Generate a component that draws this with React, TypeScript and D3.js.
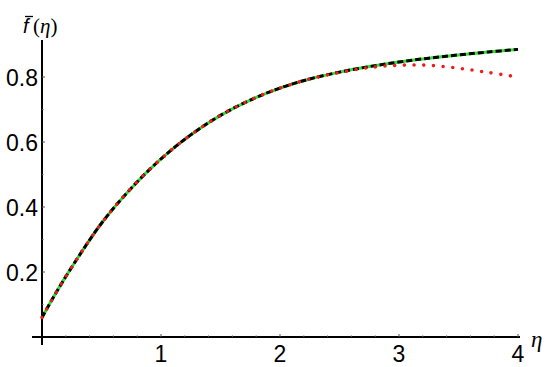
import * as React from 'react'
import * as d3 from 'd3'

// eta grid and the three solutions
const etaValues = [0, 0.1, 0.25, 0.5, 0.75, 1, 1.25, 1.5, 1.75, 2, 2.25, 2.5, 2.75, 3, 3.25, 3.5, 3.75, 4]
const fNumeric = [0.06, 0.125, 0.215, 0.35, 0.458, 0.548, 0.622, 0.682, 0.729, 0.766, 0.794, 0.815, 0.832, 0.846, 0.858, 0.868, 0.877, 0.885]
const fApprox = [0.06, 0.125, 0.215, 0.35, 0.458, 0.548, 0.622, 0.682, 0.729, 0.766, 0.794, 0.815, 0.832, 0.846, 0.858, 0.868, 0.877, 0.885]
const fSeries = [0.06, 0.125, 0.215, 0.35, 0.458, 0.548, 0.622, 0.682, 0.729, 0.766, 0.794, 0.814, 0.829, 0.836, 0.836, 0.827, 0.814, 0.8]

const xTicks = [1, 2, 3, 4]
const yTicks = [0.2, 0.4, 0.6, 0.8]

const width = 550
const height = 367

export default function App() {
  const x = d3.scaleLinear().domain([0, 4]).range([42, 518])
  const y = d3.scaleLinear().domain([0, 0.8]).range([337, 77])

  const line = (vals: number[]) =>
    d3.line<number>()
      .x((_, i) => x(etaValues[i]))
      .y(d => y(d))
      .curve(d3.curveCatmullRom.alpha(0.5))(vals) || ''

  const minorX = d3.range(0.2, 4.01, 0.2)
  const minorY = d3.range(0.1, 0.9, 0.1)
  const font = '"Liberation Sans", Arial, sans-serif'

  return (
    <svg width={width} height={height} style={{ position: 'absolute', left: 0, top: 0 }}>
      <rect width={width} height={height} fill="#fff" />

      {/* axes */}
      <line x1={32} x2={520} y1={y(0)} y2={y(0)} stroke="#000" strokeWidth={2} />
      <line x1={x(0)} x2={x(0)} y1={40} y2={345} stroke="#000" strokeWidth={2} />

      {minorX.map(t => (
        <line key={'mx' + t} x1={x(t)} x2={x(t)} y1={y(0)} y2={y(0) - (Math.abs(t - Math.round(t)) < 0.01 ? 3 : 1.5)}
          stroke="#555" strokeWidth={1} />
      ))}
      {minorY.map(t => (
        <line key={'my' + t} x1={x(0)} x2={x(0) + (Math.abs(t * 5 - Math.round(t * 5)) < 0.01 ? 3 : 1.5)} y1={y(t)} y2={y(t)}
          stroke="#555" strokeWidth={1} />
      ))}

      {xTicks.map(t => (
        <text key={'xt' + t} x={x(t)} y={362} textAnchor="middle" fontFamily={font} fontSize={23}>{t}</text>
      ))}
      {yTicks.map(t => (
        <text key={'yt' + t} x={38} y={y(t) + 8.5} textAnchor="end" fontFamily={font} fontSize={23}>{t.toFixed(1)}</text>
      ))}

      {/* axis labels */}
      <text x={23} y={33} fontFamily={font} fontStyle="italic" fontSize={20}>f</text>
      <line x1={25} x2={33} y1={16.5} y2={16.5} stroke="#000" strokeWidth={1.3} />
      <text x={33} y={33} fontFamily='"Liberation Serif", "Times New Roman", serif' fontSize={21}>
        (<tspan fontStyle="italic">η</tspan>)
      </text>
      <text x={531} y={347} fontFamily='"Liberation Serif", "Times New Roman", serif' fontStyle="italic" fontSize={23}>η</text>

      {/* curves */}
      <path d={line(fNumeric)} fill="none" stroke="#33dd33" strokeWidth={3} />
      <path d={line(fApprox)} fill="none" stroke="#000" strokeWidth={3} strokeDasharray="6 3" />
      <path d={line(fSeries)} fill="none" stroke="#ee1c1c" strokeWidth={3.6} strokeLinecap="round" strokeDasharray="0 9.7" />
    </svg>
  )
}
